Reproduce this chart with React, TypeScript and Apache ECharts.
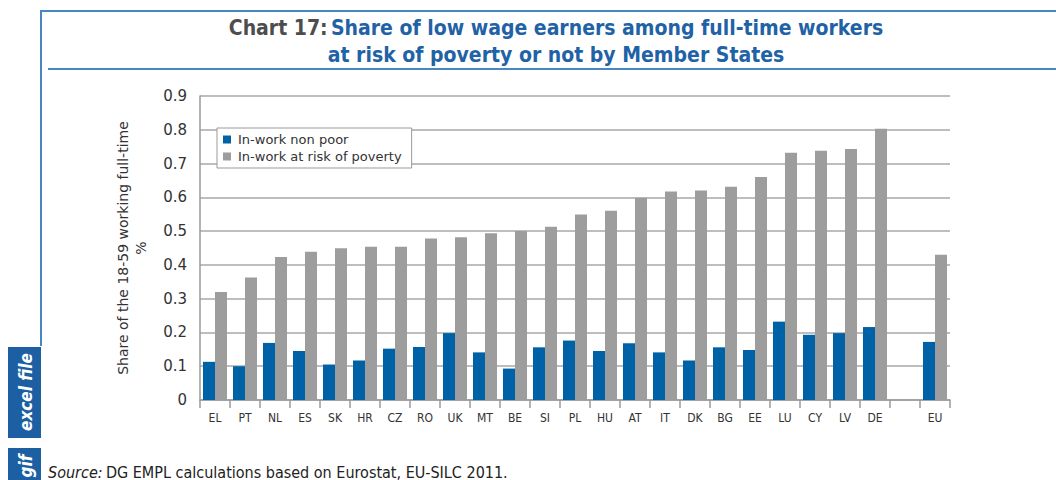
import React, { useEffect, useRef } from "react";
import * as echarts from "echarts";

const categories = ["EL", "PT", "NL", "ES", "SK", "HR", "CZ", "RO", "UK", "MT", "BE", "SI", "PL", "HU", "AT", "IT", "DK", "BG", "EE", "LU", "CY", "LV", "DE", "", "EU"];
const nonPoor = [0.113, 0.1, 0.169, 0.145, 0.105, 0.117, 0.152, 0.157, 0.198, 0.141, 0.093, 0.156, 0.176, 0.145, 0.168, 0.141, 0.117, 0.156, 0.148, 0.232, 0.193, 0.198, 0.216, null, 0.172];
const atRisk = [0.32, 0.363, 0.423, 0.439, 0.449, 0.454, 0.454, 0.478, 0.482, 0.494, 0.5, 0.513, 0.549, 0.56, 0.599, 0.617, 0.62, 0.631, 0.66, 0.732, 0.738, 0.743, 0.803, null, 0.43];
const yTicks = [0, 0.1, 0.2, 0.3, 0.4, 0.5, 0.6, 0.7, 0.8, 0.9];

const seriesNames = ["In-work non poor", "In-work at risk of poverty"];
const titleLead = "Chart 17:";
const titleLine1 = "Share of low wage earners among full-time workers";
const titleLine2 = "at risk of poverty or not by Member States";
const yAxisName = "Share of the 18-59 working full-time\n%";

const BLUE = "#0062a6";
const GREY = "#9d9d9d";
const FRAME = "#4a86c2";
const COND = "'DejaVu Sans Condensed', 'Liberation Sans Narrow', 'DejaVu Sans', sans-serif";

export default function App() {
  const ref = useRef<HTMLDivElement>(null);
  useEffect(() => {
    if (!ref.current) return;
    const chart = echarts.init(ref.current, undefined, { renderer: "svg" });
    chart.setOption({
      animation: false,
      backgroundColor: "#ffffff",
      grid: { left: 200, right: 106, top: 96, bottom: 80, containLabel: false },
      legend: {
        orient: "vertical",
        left: 217,
        top: 128,
        itemWidth: 8,
        itemHeight: 8,
        itemGap: 4,
        padding: [5, 10, 5, 6],
        backgroundColor: "#ffffff",
        borderColor: "#9a9a9a",
        borderWidth: 1,
        icon: "rect",
        textStyle: { fontFamily: "'DejaVu Sans', sans-serif", fontSize: 13, color: "#333", padding: [0, 0, 0, 2] },
        data: seriesNames,
      },
      xAxis: {
        type: "category",
        data: categories,
        axisLine: { lineStyle: { color: "#9a9a9a", width: 1.5 } },
        axisTick: { show: true, length: 8, lineStyle: { color: "#9a9a9a", width: 1.5 } },
        axisLabel: { interval: 0, fontFamily: COND, fontSize: 12, color: "#333", margin: 12 },
      },
      yAxis: {
        type: "value",
        min: 0,
        max: 0.9,
        interval: 0.1,
        name: yAxisName,
        nameLocation: "middle",
        nameRotate: 90,
        nameGap: 50,
        nameTextStyle: { fontFamily: "'DejaVu Sans', sans-serif", fontSize: 14, color: "#333", lineHeight: 18 },
        axisLine: { show: true, lineStyle: { color: "#9a9a9a", width: 1.5 } },
        axisTick: { show: false },
        axisLabel: {
          fontFamily: "'DejaVu Sans', sans-serif",
          fontSize: 15,
          color: "#333",
          margin: 13,
          formatter: (v: number) => {
            const t = yTicks.find((x) => Math.abs(x - v) < 1e-6);
            return t === undefined ? "" : t === 0 ? "0" : t.toFixed(1);
          },
        },
        splitLine: { lineStyle: { color: "#a8a8a8", width: 1.5 } },
      },
      series: [
        { name: seriesNames[0], type: "bar", data: nonPoor, itemStyle: { color: BLUE }, barGap: "0%", barCategoryGap: "20%" },
        { name: seriesNames[1], type: "bar", data: atRisk, itemStyle: { color: GREY }, barGap: "0%", barCategoryGap: "20%" },
      ],
      graphic: [
        { type: "polyline", shape: { points: [[41, 480 - 134], [41, 11], [1056, 11]] }, style: { stroke: FRAME, lineWidth: 2, fill: null } },
        { type: "line", shape: { x1: 48, y1: 69, x2: 1056, y2: 69 }, style: { stroke: FRAME, lineWidth: 2 } },
        {
          type: "text",
          x: 556,
          y: 41,
          style: {
            text: `{a|${titleLead}} {b|${titleLine1}}\n{b|${titleLine2}}`,
            align: "center",
            verticalAlign: "middle",
            rich: {
              a: { fontFamily: COND, fontSize: 21, fontWeight: "bold", fill: "#4d4d4d", lineHeight: 27 },
              b: { fontFamily: COND, fontSize: 21, fontWeight: "bold", fill: "#1f62a6", lineHeight: 27 },
            },
          },
        },
        { type: "rect", shape: { x: 8, y: 347, width: 33, height: 91 }, style: { fill: "#1c5fa2" } },
        { type: "rect", shape: { x: 8, y: 448, width: 33, height: 40 }, style: { fill: "#1c5fa2" } },
        {
          type: "text",
          x: 26,
          y: 392,
          rotation: Math.PI / 2,
          style: { text: "excel file", align: "center", verticalAlign: "middle", fontFamily: COND, fontSize: 17, fontStyle: "italic", fontWeight: "bold", fill: "#ffffff" },
        },
        {
          type: "text",
          x: 26,
          y: 466,
          rotation: Math.PI / 2,
          style: { text: "gif", align: "center", verticalAlign: "middle", fontFamily: COND, fontSize: 17, fontStyle: "italic", fontWeight: "bold", fill: "#ffffff" },
        },
        {
          type: "text",
          x: 48,
          y: 472,
          style: {
            text: "{i|Source:} {n|DG EMPL calculations based on Eurostat, EU-SILC 2011.}",
            verticalAlign: "middle",
            rich: {
              i: { fontFamily: COND, fontSize: 16, fontStyle: "italic", fill: "#222" },
              n: { fontFamily: COND, fontSize: 16, fill: "#222" },
            },
          },
        },
      ],
    });
    return () => chart.dispose();
  }, []);
  return <div ref={ref} style={{ position: "fixed", left: 0, top: 0, width: 1056, height: 480 }} />;
}
